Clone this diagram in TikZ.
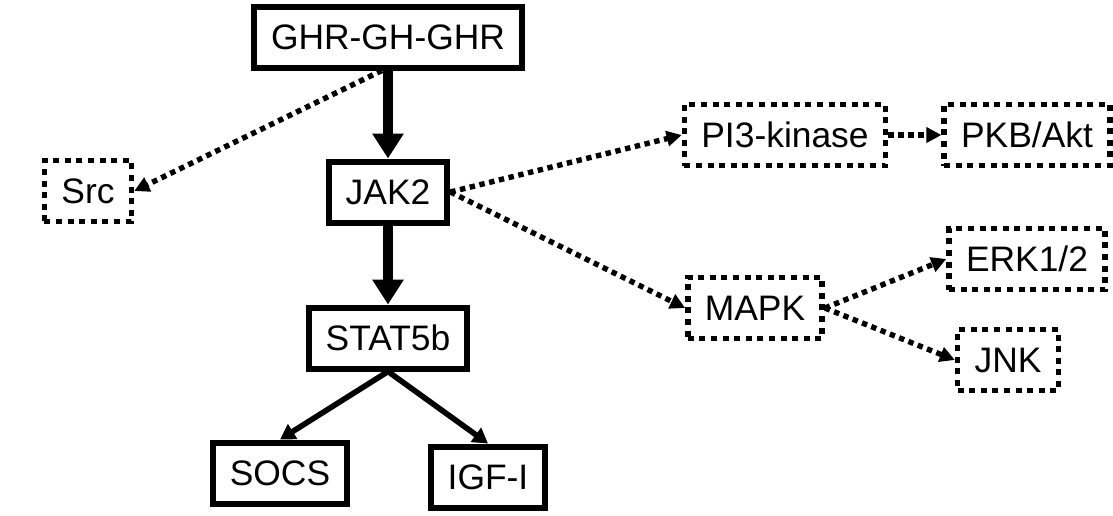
\documentclass[tikz,border=0pt]{standalone}
\usepackage{fontspec}
\setmainfont{Liberation Sans}
\usepackage{tikz}
\usetikzlibrary{arrows.meta,positioning}

\tikzset{
    solidbox/.style={draw, line width=3pt, inner xsep=8.5pt, minimum height=30.5pt,
        font=\fontsize{17.7pt}{21pt}\selectfont},
    dotbox/.style={draw, line width=2.7pt, dash pattern=on 3pt off 2.8pt,
        inner xsep=8.5pt, minimum height=30.5pt, font=\fontsize{17.7pt}{21pt}\selectfont},
    mainarrow/.style={line width=5pt, -{Triangle[length=12.5pt,width=15pt]}},
    thinarrow/.style={line width=2.8pt, -{Triangle[length=7.5pt,width=8.5pt]}},
    dotarrow/.style={line width=2.7pt, dash pattern=on 2.7pt off 2.3pt,
        -{Triangle[length=7.5pt,width=7.5pt]}}
}

\begin{document}
\begin{tikzpicture}[x=0.5pt, y=-0.5pt]
\useasboundingbox (0,0) rectangle (1113,515);

% main pathway (solid)
\node[solidbox] (ghr) at (388,37) {GHR-GH-GHR};
\node[solidbox] (jak) at (388,192) {JAK2};
\node[solidbox] (stat) at (388,338) {STAT5b};
\node[solidbox] (socs) at (280,473) {SOCS};
\node[solidbox] (igf) at (488,477) {IGF-I};

% side branches (dotted)
\node[dotbox] (src) at (88,191) {Src};
\node[dotbox] (pik) at (785,135) {PI3-kinase};
\node[dotbox] (akt) at (1027,135) {PKB/Akt};
\node[dotbox] (mapk) at (755,308) {MAPK};
\node[dotbox] (erk) at (1027,259) {ERK1/2};
\node[dotbox] (jnk) at (1008,360) {JNK};

% solid arrows
\draw[mainarrow] (ghr.south) -- (jak.north);
\draw[mainarrow] (jak.south) -- (stat.north);
\draw[thinarrow] (stat.south) -- (socs.north);
\draw[thinarrow] (stat.south) -- (igf.north);

% dotted arrows
\draw[dotarrow] ([xshift=-3pt]ghr.south) -- (src.east);
\draw[dotarrow] (jak.east) -- (pik.west);
\draw[dotarrow] (jak.east) -- (mapk.west);
\draw[dotarrow] (pik.east) -- (akt.west);
\draw[dotarrow] (mapk.east) -- (erk.west);
\draw[dotarrow] (mapk.east) -- (jnk.west);
\end{tikzpicture}
\end{document}
